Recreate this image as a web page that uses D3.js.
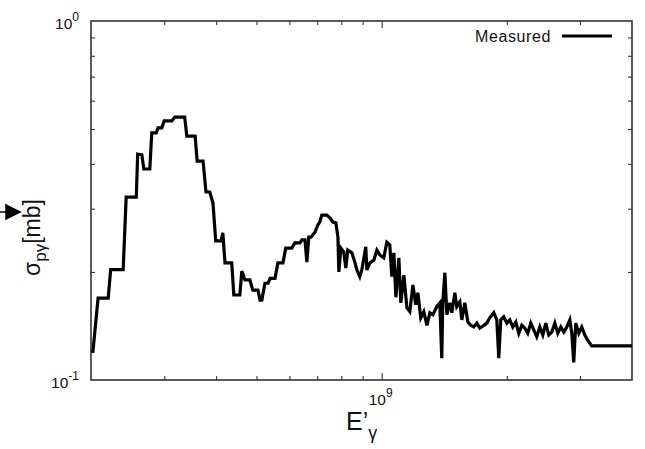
<!DOCTYPE html>
<html>
<head>
<meta charset="utf-8">
<script src="https://cdn.jsdelivr.net/npm/d3@7"></script>
<style>
  html, body { margin: 0; padding: 0; background: #fff; }
  svg { display: block; font-family: "Liberation Sans", Arial, Helvetica, sans-serif; }
</style>
</head>
<body>
<svg id="chart" width="645" height="449"></svg>
<script>
// Photon energy E'γ in units of 10^9 (eV)
const energyGeV = [
  0.202, 0.208, 0.220, 0.223, 0.239, 0.243, 0.257, 0.259, 0.265, 0.268,
  0.277, 0.280, 0.287, 0.290, 0.296, 0.300, 0.313, 0.318, 0.336, 0.340,
  0.356, 0.360, 0.372, 0.378, 0.386, 0.393, 0.399, 0.411, 0.415, 0.420,
  0.436, 0.441, 0.456, 0.461, 0.469, 0.482, 0.490, 0.504, 0.510, 0.515,
  0.524, 0.533, 0.539, 0.554, 0.563, 0.579, 0.588, 0.608, 0.618, 0.636,
  0.643, 0.654, 0.661, 0.668, 0.676, 0.691, 0.702, 0.710, 0.718, 0.738,
  0.751, 0.763, 0.776, 0.785, 0.789, 0.798, 0.811, 0.820, 0.829, 0.848,
  0.862, 0.872, 0.886, 0.896, 0.916, 0.921, 0.937, 0.958, 0.974, 0.990,
  1.012, 1.029, 1.046, 1.058, 1.070, 1.082, 1.100, 1.112, 1.131, 1.150,
  1.169, 1.189, 1.208, 1.222, 1.242, 1.263, 1.285, 1.306, 1.328, 1.357,
  1.380, 1.395, 1.403, 1.419, 1.435, 1.459, 1.475, 1.500, 1.516, 1.542,
  1.559, 1.585, 1.612, 1.638, 1.666, 1.694, 1.722, 1.761, 1.790, 1.820,
  1.861, 1.892, 1.913, 1.934, 1.966, 2.000, 2.033, 2.067, 2.102, 2.137,
  2.173, 2.209, 2.246, 2.284, 2.322, 2.361, 2.401, 2.441, 2.482, 2.523,
  2.566, 2.609, 2.652, 2.697, 2.742, 2.788, 2.835, 2.866, 2.897, 2.930,
  2.979, 3.029, 3.080, 3.131, 3.201, 4.000
];

// Cross section σ_pγ [mb]
const sigmaMb = [
  0.119, 0.169, 0.169, 0.203, 0.203, 0.323, 0.323, 0.426, 0.424, 0.387,
  0.387, 0.488, 0.488, 0.504, 0.504, 0.527, 0.527, 0.540, 0.540, 0.478,
  0.478, 0.407, 0.407, 0.334, 0.334, 0.311, 0.244, 0.244, 0.257, 0.212,
  0.212, 0.1725, 0.1725, 0.201, 0.190, 0.190, 0.178, 0.178, 0.167, 0.167,
  0.186, 0.186, 0.192, 0.192, 0.212, 0.212, 0.233, 0.233, 0.241, 0.241,
  0.2455, 0.2455, 0.213, 0.250, 0.250, 0.258, 0.270, 0.2755, 0.288, 0.288,
  0.283, 0.2755, 0.274, 0.250, 0.200, 0.233, 0.227, 0.205, 0.230, 0.226,
  0.213, 0.2025, 0.194, 0.2025, 0.235, 0.2025, 0.212, 0.216, 0.230, 0.223,
  0.219, 0.242, 0.238, 0.194, 0.226, 0.170, 0.219, 0.164, 0.196, 0.159,
  0.155, 0.184, 0.162, 0.175, 0.149, 0.155, 0.142, 0.154, 0.152, 0.160,
  0.164, 0.115, 0.164, 0.199, 0.152, 0.164, 0.154, 0.175, 0.160, 0.165,
  0.147, 0.164, 0.145, 0.142, 0.1405, 0.144, 0.1396, 0.142, 0.144, 0.149,
  0.154, 0.147, 0.115, 0.147, 0.150, 0.144, 0.147, 0.1405, 0.145, 0.135,
  0.142, 0.1396, 0.135, 0.144, 0.138, 0.132, 0.1405, 0.1335, 0.144, 0.1335,
  0.136, 0.144, 0.135, 0.1405, 0.136, 0.1405, 0.147, 0.135, 0.112, 0.144,
  0.135, 0.1405, 0.1335, 0.129, 0.1244, 0.1244
];

const xMinorTicks = [3e8, 4e8, 5e8, 6e8, 7e8, 8e8, 9e8, 2e9, 3e9];
const xMajorTicks = [1e9];
const yMinorTicks = [0.2, 0.3, 0.4, 0.5, 0.6, 0.7, 0.8, 0.9];
const yMajorLabels = [{ v: 1, exp: "0" }, { v: 0.1, exp: "-1" }];
const seriesName = "Measured";

const svg = d3.select("#chart");
const plotLeft = 91, plotRight = 632, plotTop = 21, plotBottom = 380;

const x = d3.scaleLog().domain([2e8, 4e9]).range([plotLeft, plotRight]);
const y = d3.scaleLog().domain([0.1, 1]).range([plotBottom, plotTop]);

const data = energyGeV.map((e, i) => ({ e: e * 1e9, s: sigmaMb[i] }));

// inward ticks on all four sides
function styleAxis(g) {
  g.select(".domain").remove();
  g.selectAll(".tick line").attr("stroke", "#222").attr("stroke-width", 1);
  g.selectAll(".tick text").remove();
}
svg.append("g").attr("transform", `translate(0,${plotBottom})`)
  .call(d3.axisBottom(x).tickValues(xMinorTicks).tickSize(-4)).call(styleAxis);
svg.append("g").attr("transform", `translate(0,${plotBottom})`)
  .call(d3.axisBottom(x).tickValues(xMajorTicks).tickSize(-7)).call(styleAxis);
svg.append("g").attr("transform", `translate(0,${plotTop})`)
  .call(d3.axisTop(x).tickValues(xMinorTicks).tickSize(-4)).call(styleAxis);
svg.append("g").attr("transform", `translate(0,${plotTop})`)
  .call(d3.axisTop(x).tickValues(xMajorTicks).tickSize(-7)).call(styleAxis);
svg.append("g").attr("transform", `translate(${plotLeft},0)`)
  .call(d3.axisLeft(y).tickValues(yMinorTicks).tickSize(-4)).call(styleAxis);
svg.append("g").attr("transform", `translate(${plotRight},0)`)
  .call(d3.axisRight(y).tickValues(yMinorTicks).tickSize(-4)).call(styleAxis);

// frame
svg.append("rect")
  .attr("x", plotLeft).attr("y", plotTop)
  .attr("width", plotRight - plotLeft).attr("height", plotBottom - plotTop)
  .attr("fill", "none").attr("stroke", "#333").attr("stroke-width", 1.6);

// tick labels with powers of ten
function powerLabel(px, py, exp, anchor) {
  const t = svg.append("text").attr("x", px).attr("y", py)
    .attr("font-size", 15.5).attr("text-anchor", anchor).attr("fill", "#111");
  t.append("tspan").text("10");
  t.append("tspan").attr("dy", -8).attr("font-size", 12).text(exp);
}
yMajorLabels.forEach(d => powerLabel(plotLeft - 12, y(d.v) + 8, d.exp, "end"));
xMajorTicks.forEach(v => powerLabel(x(v) - 13, plotBottom + 25, "9", "start"));

// axis titles
const xt = svg.append("text").attr("x", 346).attr("y", 430)
  .attr("font-size", 25).attr("fill", "#111");
xt.append("tspan").text("E’");
xt.append("tspan").attr("dy", 9).attr("font-size", 18).text("γ");

const yt = svg.append("text")
  .attr("transform", "translate(40,276) rotate(-90)")
  .attr("font-size", 23).attr("fill", "#111");
yt.append("tspan").text("σ");
yt.append("tspan").attr("dy", 6).attr("font-size", 17).text("pγ");
yt.append("tspan").attr("dy", -6).text("[mb]");

// small arrow marker on the left margin
svg.append("path")
  .attr("d", "M0,212 L6,212 M6,205 L20,212 L6,219 Z")
  .attr("fill", "#000").attr("stroke", "#000").attr("stroke-width", 1.5);

// measured curve
const line = d3.line().x(d => x(d.e)).y(d => y(d.s));
svg.append("path").datum(data)
  .attr("d", line)
  .attr("fill", "none").attr("stroke", "#000")
  .attr("stroke-width", 3.2).attr("stroke-linejoin", "miter");

// legend
svg.append("text").attr("x", 551).attr("y", 42)
  .attr("font-size", 16).attr("letter-spacing", 0.6)
  .attr("text-anchor", "end").attr("fill", "#111")
  .text(seriesName);
svg.append("line").attr("x1", 562).attr("x2", 612).attr("y1", 36).attr("y2", 36)
  .attr("stroke", "#000").attr("stroke-width", 3);
</script>
</body>
</html>
